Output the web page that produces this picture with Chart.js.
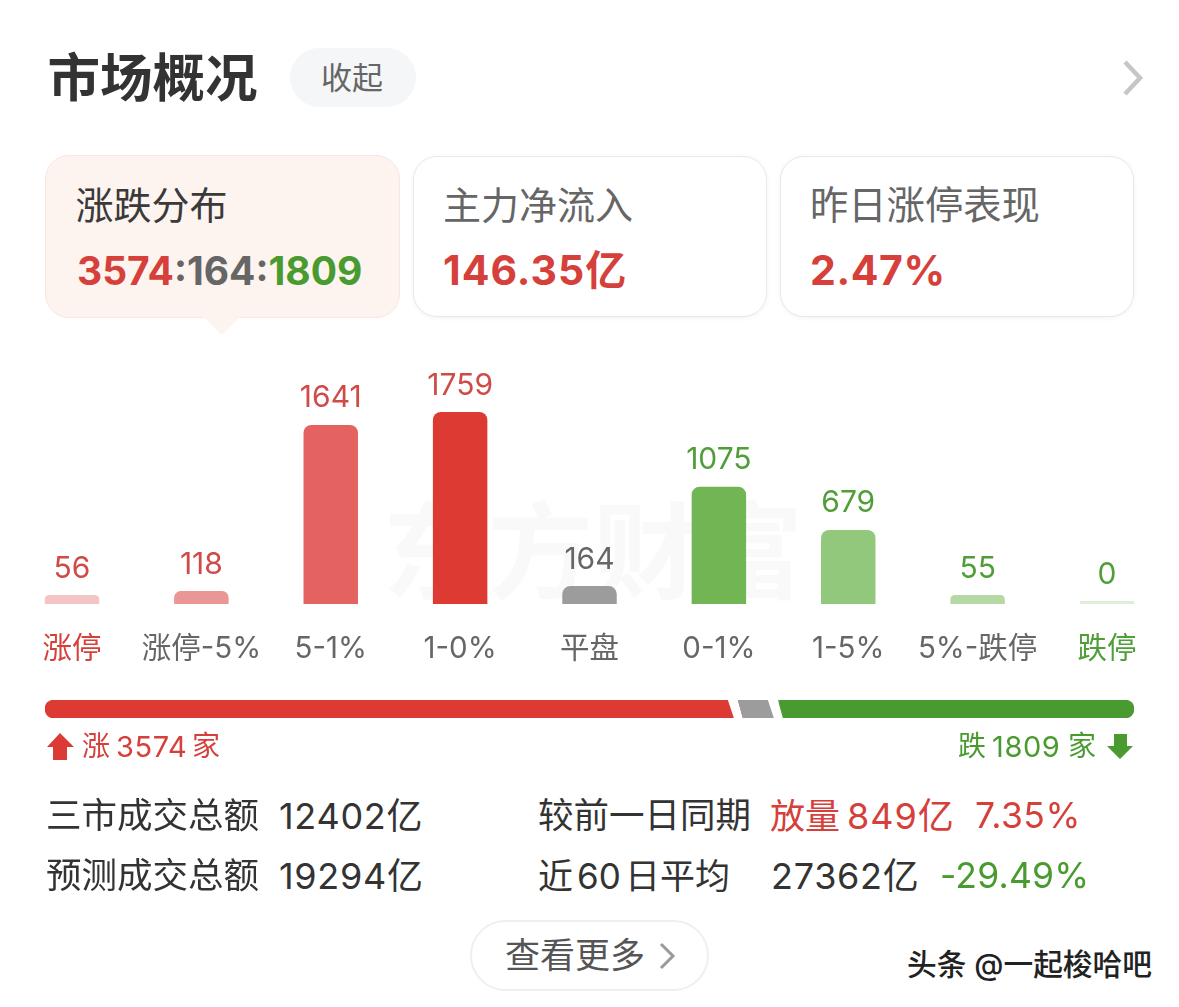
<!DOCTYPE html>
<html lang="zh">
<head>
<meta charset="utf-8">
<title>市场概况</title>
<script src="https://cdn.jsdelivr.net/npm/chart.js@4"></script>
<style>
html,body{margin:0;padding:0;background:#fff;width:1179px;height:1007px;overflow:hidden;font-family:Inter,"Noto Sans CJK SC","Noto Sans",sans-serif}
#page{position:absolute;left:0;top:0;width:1179px;height:1007px;overflow:hidden}
.t{position:absolute;white-space:nowrap;line-height:1;transform:translateY(-50%)}
.box{position:absolute;box-sizing:border-box}
canvas{position:absolute;left:0}
svg{position:absolute;left:0;top:0}
</style>
</head>
<body>
<div id="page">
  <div class="box" style="left:290px;top:48px;width:126px;height:59px;border-radius:30px;background:#f5f6f8"></div>
  <div class="box" style="left:45px;top:155px;width:355px;height:163px;border-radius:24px;background:#fdf3ef;border:1.5px solid #fae6df"></div>
  <div class="box" style="left:413px;top:156px;width:354px;height:161px;border-radius:24px;background:#fff;border:1.5px solid #e9e9e9;box-shadow:0 1px 5px rgba(0,0,0,.05)"></div>
  <div class="box" style="left:780px;top:156px;width:354px;height:161px;border-radius:24px;background:#fff;border:1.5px solid #e9e9e9;box-shadow:0 1px 5px rgba(0,0,0,.05)"></div>
  <div class="box" style="left:470px;top:920px;width:239px;height:71px;border-radius:36px;background:#fff;border:2.5px solid #efefef"></div>
  <svg width="1179" height="1007" viewBox="0 0 1179 1007">
    <path d="M1125 62 L1140 78 L1125 94" fill="none" stroke="#c6c6c6" stroke-width="4.5"/>
    <path d="M204 317 L222 335 L240 317 Z" fill="#fdf3ef"/>
    <path d="M661 944 L673 956 L661 968" fill="none" stroke="#9a9a9a" stroke-width="3"/>
    <path d="M60 733 L74 747 L67 747 L67 760 L53 760 L53 747 L47 747 Z" fill="#dc3a34"/>
    <path d="M1114 734 L1127 734 L1127 746 L1133 746 L1120 759 L1107 746 L1114 746 Z" fill="#4a9b2f"/>
  </svg>
  <div id="wm" class="t" style="left:383px;top:544px;font-size:105px;font-weight:700;color:#f9f9f9;font-family:'Noto Sans CJK SC'">东方财富</div>
  <canvas id="dist" width="1179" height="340" style="top:360px;width:1179px;height:340px"></canvas>
  <canvas id="split" width="1179" height="40" style="top:690px;width:1179px;height:40px"></canvas>
  <div id="texts"></div>
</div>
<script>
// ---- chart data ----
const categories = ['涨停','涨停-5%','5-1%','1-0%','平盘','0-1%','1-5%','5%-跌停','跌停'];
const counts     = [56,118,1641,1759,164,1075,679,55,0];
const barColors  = ['#f3c5c5','#e99695','#e4625f','#dd3a33','#9c9c9c','#71b555','#92c87c','#b5d9a5','#dfeeda'];
const valueColors= ['#cf4b47','#cf4b47','#cf4b47','#cf4b47','#666666','#4f9e38','#4f9e38','#4f9e38','#4f9e38'];
const tickColors = ['#d6403a','#666666','#666666','#666666','#666666','#666666','#666666','#666666','#4f9e38'];
const splitLabels = ['涨跌家数'];
const upCount = [3574];
const flatCount = [164];
const downCount = [1809];

const RED='#d6403a', GREEN='#4a9b2f', INK='#333333', GREY='#666666';
const CJK='Inter,"Noto Sans CJK SC","Noto Sans",sans-serif';

// ---- page text: [x, centre y, text, size, colour, weight, letter spacing] ----
const pageTexts = [
  [47.5,78,'市场概况',52.5,'#333333',700,0],
  [321,77,'收起',31,GREY,400,0],
  [75.5,205,'涨跌分布',38,'#3a3a3a',400,0],
  [443,205,'主力净流入',38,GREY,400,0],
  [810,205,'昨日涨停表现',38.3,GREY,400,0],
  [443,270,'146.35亿',41,'#d6403a',700,1],
  [810,270,'2.47%',41,'#d6403a',700,0.6],
  [82,746,'涨',28,RED,400,0],[116,746,'3574',29,RED,400,0.6],[192,746,'家',28,RED,400,0],
  [958,746,'跌',28,GREEN,400,0],[992,746,'1809',29,GREEN,400,0.6],[1068,746,'家',28,GREEN,400,0],
  [46,816,'三市成交总额',35.5,INK,400,0],[279,816,'12402亿',36,INK,400,0.7],
  [46,876,'预测成交总额',35.5,INK,400,0],[279,876,'19294亿',36,INK,400,0.7],
  [538,816,'较前一日同期',35.5,INK,400,0],[770,816,'放量',35,RED,400,0],[847,816,'849亿',36,RED,400,1],[975,816,'7.35%',35.5,RED,400,0.5],
  [538,876,'近',35,INK,400,0],[577,876,'60',35,INK,400,0],[625,876,'日平均',35,INK,400,0],
  [771,876,'27362亿',36,INK,400,0.7],[940,876,'-29.49%',35.5,GREEN,400,0.2],
  [505,955,'查看更多',35,'#555555',400,0],
  [907,965,'头条 @一起梭哈吧',29.7,'#222222',500,0]
];
const holder = document.getElementById('texts');
for (const [x,y,s,size,color,weight,ls] of pageTexts) {
  const e = document.createElement('div');
  e.className='t';
  e.textContent=s;
  e.style.cssText=`left:${x}px;top:${y}px;font-size:${size}px;color:${color};font-weight:${weight};letter-spacing:${ls}px`;
  holder.appendChild(e);
}
// ratio text with three colours
const ratio=document.createElement('div');
ratio.className='t';
ratio.style.cssText=`left:77px;top:270px;font-size:39px;font-weight:700`;
ratio.innerHTML=`<span style="color:#d6403a">${upCount[0]}</span><span style="color:#666">:${flatCount[0]}:</span><span style="color:#4a9b2f">${downCount[0]}</span>`;
holder.appendChild(ratio);

// ---- distribution chart ----
const valueLabels = {
  id:'valueLabels',
  afterDatasetsDraw(chart){
    const c=chart.ctx;
    c.save();
    c.font='30px '+CJK;
    c.textAlign='center';
    c.textBaseline='middle';
    chart.data.datasets.forEach((ds,di)=>{
      chart.getDatasetMeta(di).data.forEach((bar,i)=>{
        if(ds.data[i]===null) return;
        c.fillStyle=valueColors[i];
        c.fillText(String(ds.data[i]),bar.x,bar.y-26.5);
      });
    });
    c.restore();
  }
};
new Chart(document.getElementById('dist'),{
  type:'bar',
  data:{labels:categories,datasets:[
    {data:counts.map(v=>v===0?null:v),backgroundColor:barColors,minBarLength:9,
     borderRadius:{topLeft:8,topRight:8,bottomLeft:0,bottomRight:0},borderSkipped:false},
    {data:counts.map(v=>v===0?0:null),backgroundColor:barColors,minBarLength:3,borderRadius:0}
  ]},
  options:{
    responsive:false,animation:false,
    layout:{padding:{left:7.3,right:7.3,top:52,bottom:6}},
    datasets:{bar:{grouped:false,categoryPercentage:1,barPercentage:0.421}},
    plugins:{legend:{display:false},tooltip:{enabled:false}},
    scales:{
      x:{grid:{display:false,drawTicks:false},border:{display:false},
         ticks:{autoSkip:false,maxRotation:0,padding:27.3,font:{size:29.5,family:CJK},color:c=>tickColors[c.index]}},
      y:{display:false,min:0,max:Math.max(...counts)}
    }
  },
  plugins:[valueLabels]
});

// ---- up / flat / down strip ----
const slants = {
  id:'slants',
  afterDatasetsDraw(chart){
    const c=chart.ctx, green=chart.getDatasetMeta(2).data[0];
    const b=green.base, top=green.y-green.height/2, bot=green.y+green.height/2;
    const poly=(col,a,d,e,f)=>{c.fillStyle=col;c.beginPath();c.moveTo(b+a,top);c.lineTo(b+d,top);c.lineTo(b+e,bot);c.lineTo(b+f,bot);c.closePath();c.fill();};
    poly('#ffffff',-51,-41,-36,-45);
    poly('#9c9c9c',-41,-11,-5,-36);
    poly('#ffffff',-11,-1,4,-5);
  }
};
new Chart(document.getElementById('split'),{
  type:'bar',
  data:{labels:splitLabels,datasets:[
    {data:upCount,backgroundColor:'#dd3a33',borderSkipped:false,borderRadius:{topLeft:9,bottomLeft:9,topRight:0,bottomRight:0}},
    {data:flatCount,backgroundColor:'#9c9c9c',borderSkipped:false,borderRadius:0},
    {data:downCount,backgroundColor:'#4a9b2f',borderSkipped:false,borderRadius:{topRight:9,bottomRight:9,topLeft:0,bottomLeft:0}}
  ]},
  options:{
    indexAxis:'y',responsive:false,animation:false,
    layout:{padding:{left:45,right:45,top:10,bottom:12}},
    datasets:{bar:{categoryPercentage:1,barPercentage:1}},
    plugins:{legend:{display:false},tooltip:{enabled:false}},
    scales:{
      x:{display:false,stacked:true,min:0,max:upCount[0]+flatCount[0]+downCount[0]},
      y:{display:false,stacked:true}
    }
  },
  plugins:[slants]
});
</script>
</body>
</html>
